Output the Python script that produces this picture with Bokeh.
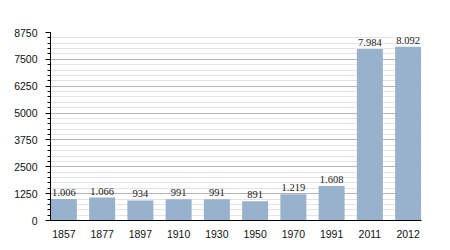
from bokeh.plotting import figure
from bokeh.models import ColumnDataSource, Range1d, FixedTicker, SingleIntervalTicker, LabelSet
from bokeh.embed import file_html
from bokeh.resources import INLINE

years = ["1857", "1877", "1897", "1910", "1930", "1950", "1970", "1991", "2011", "2012"]
population = [1006, 1066, 934, 991, 991, 891, 1219, 1608, 7984, 8092]
value_labels = ["1.006", "1.066", "934", "991", "991", "891", "1.219", "1.608", "7.984", "8.092"]

xs = list(range(len(years)))
src = ColumnDataSource(dict(x=xs, y=population, lab=value_labels))

FONT = "Liberation Sans"

p = figure(width=450, height=250, output_backend="svg", toolbar_location=None,
           x_range=Range1d(-0.35, len(years) - 1 + 0.35), y_range=Range1d(0, 8750),
           min_border_left=50, min_border_right=29, min_border_top=32, min_border_bottom=30)
p.outline_line_color = None
p.background_fill_color = "white"
p.border_fill_color = "white"

p.vbar(x="x", top="y", width=0.68, source=src, fill_color="#98b2cd", line_color=None)

labels = LabelSet(x="x", y="y", text="lab", source=src, text_align="center",
                  text_baseline="bottom", y_offset=3, text_font=FONT,
                  text_font_size="10.5px", text_color="#222222")
p.add_layout(labels)

p.xaxis.ticker = FixedTicker(ticks=xs)
p.xaxis.major_label_overrides = {i: y for i, y in enumerate(years)}
p.xaxis.major_tick_line_color = None
p.xaxis.minor_tick_line_color = None
p.xaxis.axis_line_color = "black"
p.xaxis.axis_line_width = 1.2
p.xaxis.major_label_standoff = 3
p.xaxis.major_label_text_font = FONT
p.xaxis.major_label_text_font_size = "10.5px"
p.xaxis.major_label_text_color = "#111111"

p.yaxis.ticker = SingleIntervalTicker(interval=1250, num_minor_ticks=5)
p.yaxis.axis_line_color = "black"
p.yaxis.major_tick_out = 5
p.yaxis.major_tick_in = 0
p.yaxis.minor_tick_out = 3
p.yaxis.minor_tick_in = 0
p.yaxis.major_label_standoff = 8
p.yaxis.major_label_text_font = FONT
p.yaxis.major_label_text_font_size = "10.5px"
p.yaxis.major_label_text_color = "#111111"

p.xgrid.grid_line_color = None
p.ygrid.grid_line_color = "#b4b4b4"
p.ygrid.minor_grid_line_color = "#e4e4e4"

open("out.html", "w").write(file_html(p, INLINE))
